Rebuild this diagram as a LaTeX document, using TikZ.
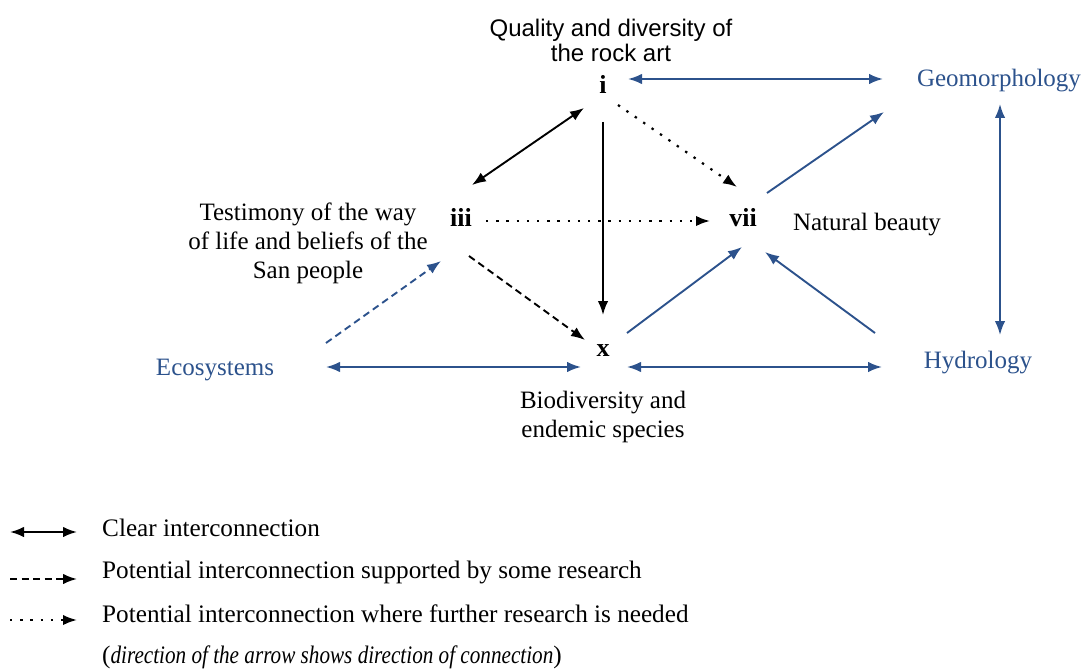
\documentclass[tikz,border=0pt]{standalone}
\usepackage{fontspec}
\setmainfont{Liberation Serif}
\newfontfamily\arialfont{Liberation Sans}
\usetikzlibrary{arrows.meta,calc}
\definecolor{hblue}{RGB}{44,82,140}
\begin{document}
\begin{tikzpicture}[x=1pt,y=-1pt,
  lbl/.style={font=\fontsize{26}{28}\selectfont\bfseries, inner sep=0pt},
  txt/.style={font=\fontsize{25}{29}\selectfont, align=center, inner sep=0pt},
  bluetxt/.style={txt, text=hblue},
  legtxt/.style={font=\fontsize{25.2}{29}\selectfont, anchor=west, inner sep=0pt},
  tip/.style={-{Latex[length=14pt,width=10.5pt]}},
  dtip/.style={{Latex[length=14pt,width=10.5pt]}-{Latex[length=14pt,width=10.5pt]}},
  blk/.style={line width=1.9pt, black},
  blu/.style={line width=1.9pt, hblue},
  dotline/.style={line width=2.2pt, dash pattern=on 2.4pt off 7.8pt},
  dashline/.style={dash pattern=on 7pt off 4.5pt}
]
\useasboundingbox (0,0) rectangle (1084,671);

% nodes
\node[lbl] (i) at (603,84) {i};
\node[lbl] (iii) at (461,217) {iii};
\node[lbl] (vii) at (743,218) {vii};
\node[lbl] (x) at (603,351) {x};

\node[txt, font=\arialfont\fontsize{24}{25}\selectfont] (qual) at (611,40) {Quality and diversity of\\the rock art};
\node[bluetxt] (geo) at (999,81) {Geomorphology};
\node[txt] (nat) at (867,225) {Natural beauty};
\node[txt] (test) at (308,243) {Testimony of the way\\of life and beliefs of the\\San people};
\node[bluetxt] (eco) at (215,370) {Ecosystems};
\node[bluetxt] (hyd) at (978,363) {Hydrology};
\node[txt] (bio) at (603,417) {Biodiversity and\\endemic species};

% connectors
\draw[blu,dtip] ($(i)+(25,-5)$) -- ($(geo)+(-116,-2)$);
\draw[blk,dtip] ($(i)+(-19,24)$) -- ($(iii)+(11,-32)$);
\draw[blk,tip] ($(i)+(0,38)$) -- ($(x)+(0,-36)$);
\draw[blk,tip,dotline] ($(i)+(15,21)$) -- ($(vii)+(-6,-31)$);
\draw[blk,tip,dotline] ($(iii)+(25,4)$) -- ($(vii)+(-33,3)$);
\draw[blk,tip,dashline] ($(iii)+(8,39)$) -- ($(x)+(-18,-11)$);
\draw[blu,tip,dashline] ($(eco)+(111,-27)$) -- ($(iii)+(-20,44)$);
\draw[blu,dtip] ($(eco)+(111,-3)$) -- ($(x)+(-22,16)$);
\draw[blu,dtip] ($(x)+(24,16)$) -- ($(hyd)+(-96,4)$);
\draw[blu,tip] ($(x)+(24,-18)$) -- ($(vii)+(-1,29)$);
\draw[blu,tip] ($(hyd)+(-103,-30)$) -- ($(vii)+(22,34)$);
\draw[blu,tip] ($(vii)+(24,-25)$) -- ($(geo)+(-115,31)$);
\draw[blu,dtip] ($(geo)+(1,23)$) -- ($(hyd)+(22,-28)$);

% legend
\coordinate (l1a) at (10,532); \coordinate (l1b) at (77,532);
\coordinate (l2a) at (10,579); \coordinate (l2b) at (77,579);
\coordinate (l3a) at (10,620); \coordinate (l3b) at (77,620);
\draw[blk,dtip] (l1a) -- (l1b);
\draw[blk,tip,dashline] (l2a) -- (l2b);
\draw[blk,tip,dotline] (l3a) -- (l3b);
\node[legtxt] (t1) at (102,528) {Clear interconnection};
\node[legtxt] (t2) at (102,572) {Potential interconnection supported by some research};
\node[legtxt] (t3) at (102,614) {Potential interconnection where further research is needed};
\node[legtxt] (t4) at (102,657) {(\scalebox{0.84}[1]{\textit{direction of the arrow shows direction of connection}})};
\end{tikzpicture}
\end{document}
